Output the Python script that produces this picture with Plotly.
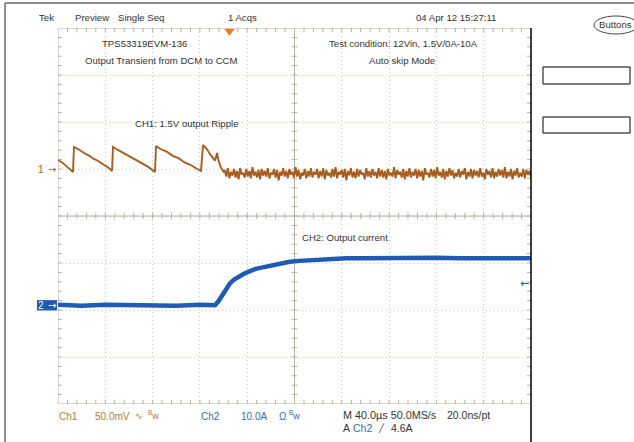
import numpy as np
import plotly.graph_objects as go

FONT = "Liberation Sans, Arial, sans-serif"
ARROW_FONT = "DejaVu Sans, sans-serif"
CH1_COLOR = "#a95d1c"
CH2_COLOR = "#1f5bb5"
CH1_TEXT = "#b37a3e"
CH2_TEXT = "#336cb6"
GRID_COLOR = "#cfc8b8"
TICK_COLOR = "#b8b09f"
TEXT_COLOR = "#333333"

# scope settings
time_per_div = 40.0   # us/div
ch1_scale = 50.0      # mV/div
ch2_scale = 10.0      # A/div
ch1_offset = 1.0      # div
ch2_offset = -1.9     # div
trigger_time = 145.0  # us
trigger_level = 4.6   # A

# Ch1: 1.5V output ripple, DCM sawtooth part (us, mV)
ch1_t = [0, 4, 8, 12.7, 13.5, 18, 22, 26, 30, 34, 38, 42, 45.7,
         46.5, 51, 56, 61, 66, 71, 76, 82.0,
         82.9, 87, 92, 97, 102, 107, 112, 117, 120.9,
         122.6, 126, 129, 132.8, 134.5, 135.5, 137.5, 140]
ch1_mv = [9.6, 6.5, 2.0, -3.2, 23.4, 20.5, 17.0, 14.5, 11.0, 8.5, 5.0, 2.0, -2.1,
          23.4, 20.0, 16.5, 12.5, 9.5, 5.5, 2.5, -3.2,
          24.5, 21.0, 18.5, 14.0, 11.5, 7.0, 4.5, 0.5, -2.1,
          25.5, 21.0, 15.0, 9.0, 17.0, 10.0, 2.0, -3.0]

# Ch1: CCM part, ripple band (mV), 141..400 us
ch1_tail_mv = [
    -1, -8, 1, -10, -3, -7, 0, -9, -2, -11, 1, -6, -4, -9, 0, -8, -2, -10, 2, -7,
    -3, -9, -1, -11, 0, -7, -2, -8, 1, -10, -4, -6, 0, -9, -1, -12, -3, -7, 1, -8,
    -2, -10, 0, -6, -3, -9, 2, -8, -1, -11, -4, -7, 0, -10, -2, -8, 1, -9, -3, -6,
    0, -10, -2, -8, 1, -11, -1, -7, -4, -9, 0, -8, 2, -10, -3, -6, -1, -9, 0, -12,
    -2, -7, 1, -9, -3, -10, 0, -8, -1, -6, -4, -11, 1, -8, -2, -9, 0, -7, -3, -10,
    1, -8, -1, -9, -2, -11, 0, -7, -4, -8, 2, -10, -1, -6, -3, -9, 0, -11, -2, -8,
    1, -9, -3, -7, 0, -10, -1, -8, -2, -12, 1, -6, -4, -9, 0, -8, -1, -10, 2, -7,
    -3, -9, 0, -11, -2, -8, 1, -7, -1, -10, -4, -8, 0, -9, -2, -6, 1, -11, -3, -8,
    0, -10, -1, -7, -2, -9, 1, -8, -4, -11, 0, -6, -2, -9, 1, -10, -3, -8, 0, -7,
    -1, -9, 2, -10, -3, -8, 0, -11, -2, -7, 1, -9, -4, -8, 0, -10, -1, -6, -2, -9,
]
ch1_tail_t = np.linspace(141, 400, len(ch1_tail_mv))

# Ch2: output current (us, A)
ch2_t = [0, 20, 40, 60, 80, 100, 120,
         132.8, 135.5, 138.7, 142, 145.5, 149, 153, 156.5, 159.8, 163,
         166.6, 170, 173.4, 177.5, 181.8, 186, 190.3, 195, 200.4, 206,
         213, 222, 232, 244, 260, 280, 300, 320, 340, 360, 380, 400]
ch2_a = [0.1, -0.1, 0.1, 0, 0.1, -0.1, 0.1,
         0, 0.8, 2.0, 3.4, 4.7, 5.5, 6.2, 6.6, 7.0, 7.4,
         7.7, 7.9, 8.1, 8.3, 8.5, 8.7, 9.0, 9.2, 9.4, 9.5,
         9.6, 9.7, 9.8, 10.0, 10.0, 10.1, 10.0, 10.1, 10.0, 10.1, 10.0, 10.0]

# plot area in pixels: x 58..531, y 28..404
L, T, W, H = 58, 28, 473, 376


def px_x(p):
    return (p - L) / W


def px_y(p):
    return 1 - (p - T) / H


x_max = 10 * time_per_div
ch1_y = [ch1_offset + v / ch1_scale for v in list(ch1_mv) + ch1_tail_mv]
ch1_x = list(ch1_t) + list(ch1_tail_t)
ch2_y = [ch2_offset + v / ch2_scale for v in ch2_a]

# graticule: edges, centre lines and small ticks
gx, gy = [], []


def seg(x0, y0, x1, y1):
    gx.extend([x0, x1, None])
    gy.extend([y0, y1, None])


seg(0, 4, x_max, 4)
seg(0, -4, x_max, -4)
seg(0, -4, 0, 4)
seg(x_max / 2, -4, x_max / 2, 4)
seg(0, 0, x_max, 0)
tick_v = 4 / 47.0
tick_h = 4 * x_max / W
for i in range(1, 50):
    x = i * time_per_div / 5
    seg(x, 4, x, 4 - tick_v)
    seg(x, -4, x, -4 + tick_v)
    seg(x, -0.065, x, 0.065)
for i in range(1, 40):
    y = -4 + i * 0.2
    seg(0, y, tick_h, y)
    seg(x_max, y, x_max - tick_h, y)
    seg(x_max / 2 - tick_h * 0.7, y, x_max / 2 + tick_h * 0.7, y)

fig = go.Figure()
fig.add_trace(go.Scatter(x=gx, y=gy, mode="lines", line=dict(color=TICK_COLOR, width=1),
                         hoverinfo="skip"))
fig.add_trace(go.Scatter(x=ch1_x, y=ch1_y, mode="lines", line=dict(color=CH1_COLOR, width=1.9),
                         name="Ch1"))
fig.add_trace(go.Scatter(x=ch2_t, y=ch2_y, mode="lines", line=dict(color=CH2_COLOR, width=4.5),
                         name="Ch2"))
# trigger position marker
fig.add_trace(go.Scatter(x=[trigger_time], y=[3.93], mode="markers", cliponaxis=False,
                         marker=dict(symbol="triangle-down", size=9, color="#f07c22"),
                         hoverinfo="skip"))

ann = []


def label(text, x, y, color=TEXT_COLOR, size=9.6, anchor="left", family=FONT):
    ann.append(dict(text=text, x=px_x(x), y=px_y(y), xref="paper", yref="paper",
                    xanchor=anchor, yanchor="middle", showarrow=False,
                    font=dict(family=family, size=size, color=color)))


label("Tek", 37, 18)
label("Preview", 73, 18)
label("Single Seq", 116, 18)
label("1 Acqs", 226, 18)
label("04 Apr 12 15:27:11", 414, 18)
label("Buttons", 615, 25, anchor="center")
label("TPS53319EVM-136", 100, 43)
label("Output Transient from DCM to CCM", 83, 61)
label("Test condition: 12Vin, 1.5V/0A-10A", 327, 43)
label("Auto skip Mode", 367, 61)
label("CH1: 1.5V output Ripple", 133, 124)
label("CH2: Output current", 300, 238)

label("Ch1", 57, 416, CH1_TEXT, 10)
label(f"{ch1_scale:.1f}mV", 93, 416, CH1_TEXT, 10)
label("∿", 133, 416, CH1_TEXT, 9)
label("<sup>B</sup>w", 146, 415, CH1_TEXT, 9)
label("Ch2", 199, 416, CH2_TEXT, 10)
label(f"{ch2_scale:.1f}A", 239, 416, CH2_TEXT, 10)
label("Ω", 277, 416, CH2_TEXT, 10)
label("<sup>B</sup>w", 287, 415, CH2_TEXT, 9)
label(f"M {time_per_div:.1f}µs 50.0MS/s", 341, 415, TEXT_COLOR, 10.8)
label("20.0ns/pt", 445, 415, TEXT_COLOR, 10.5)
label("A", 341, 428, TEXT_COLOR, 10.5)
label("Ch2", 351, 428, CH2_TEXT, 10.5)
label("╱", 376, 428, TEXT_COLOR, 8)
label(f"{trigger_level}A", 389, 428, TEXT_COLOR, 10.5)

# channel markers
label("1", 46, 169, CH1_COLOR, 10, anchor="right")
label("→", 58, 169, CH1_COLOR, 10, anchor="right", family=ARROW_FONT)
ann.append(dict(text="2", x=px_x(46), y=ch2_offset, xref="paper", yref="y", xanchor="right",
                yanchor="middle", showarrow=False,
                font=dict(family=FONT, size=10, color="white")))
ann.append(dict(text="→", x=0, y=ch2_offset, xref="x", yref="y", xanchor="right",
                yanchor="middle", showarrow=False,
                font=dict(family=ARROW_FONT, size=10, color="white")))
ann.append(dict(text="←", x=x_max, y=ch2_offset + trigger_level / ch2_scale, xref="x", yref="y",
                xanchor="right", yanchor="middle", showarrow=False,
                font=dict(family=ARROW_FONT, size=11, color=CH2_COLOR)))

shapes = [
    # outer frame
    dict(type="line", xref="paper", yref="paper", x0=px_x(5), x1=px_x(5), y0=px_y(445), y1=px_y(3),
         line=dict(color="#6a6a6a", width=1.5)),
    dict(type="line", xref="paper", yref="paper", x0=px_x(5), x1=px_x(640), y0=px_y(3), y1=px_y(3),
         line=dict(color="#6a6a6a", width=1.5)),
    # right edge of the screen
    dict(type="line", xref="paper", yref="paper", x0=1, x1=1, y0=px_y(445), y1=1,
         line=dict(color="black", width=1.5)),
    # side menu boxes
    dict(type="rect", xref="paper", yref="paper", x0=px_x(543), x1=px_x(630), y0=px_y(84), y1=px_y(67),
         line=dict(color="black", width=1)),
    dict(type="rect", xref="paper", yref="paper", x0=px_x(543), x1=px_x(630), y0=px_y(133), y1=px_y(117),
         line=dict(color="black", width=1)),
    dict(type="circle", xref="paper", yref="paper", x0=px_x(594), x1=px_x(638), y0=px_y(34), y1=px_y(16),
         line=dict(color="#444", width=1)),
    # ch2 marker box
    dict(type="rect", xref="paper", yref="y", x0=px_x(37), x1=px_x(57),
         y0=ch2_offset - 0.11, y1=ch2_offset + 0.11, fillcolor=CH2_COLOR, line=dict(width=0)),
]

fig.update_layout(
    width=634, height=442,
    margin=dict(l=L, r=634 - L - W, t=T, b=442 - T - H),
    paper_bgcolor="white", plot_bgcolor="white",
    showlegend=False,
    annotations=ann, shapes=shapes,
    xaxis=dict(range=[0, x_max], dtick=time_per_div, tick0=0, showticklabels=False,
               showgrid=True, gridcolor=GRID_COLOR, griddash="1px,3px", gridwidth=1,
               zeroline=False, showline=False, fixedrange=True),
    yaxis=dict(range=[-4, 4], dtick=1, tick0=0, showticklabels=False,
               showgrid=True, gridcolor=GRID_COLOR, griddash="1px,3px", gridwidth=1,
               zeroline=False, showline=False, fixedrange=True),
)

# page body has an 8px default margin; drop it so the figure sits at the window corner
fig.write_html("out.html", config={"displayModeBar": False},
               post_script="document.body.style.margin='0px';")
